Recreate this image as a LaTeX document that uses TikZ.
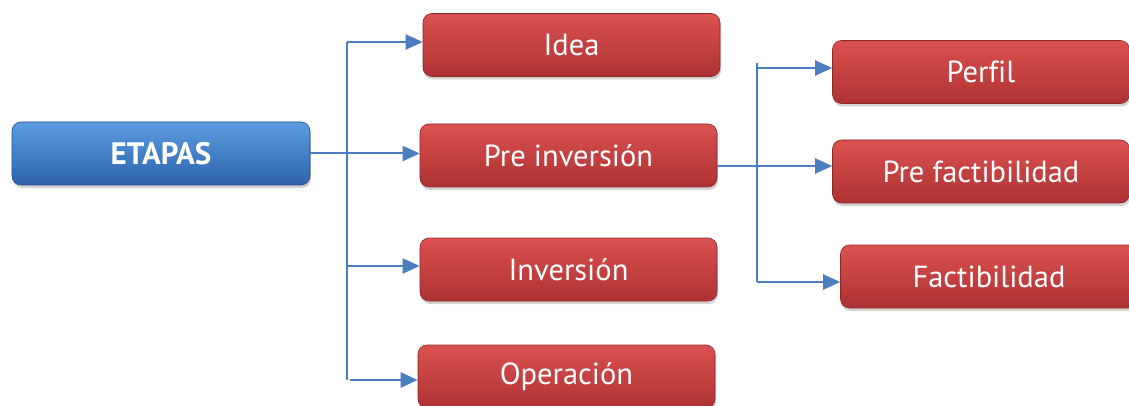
\documentclass[tikz,border=0pt]{standalone}
\usepackage{fontspec}
\setmainfont{PT Sans}[Ligatures=NoCommon]
\usepackage{tikz}
\usetikzlibrary{shapes,arrows.meta,positioning,calc,shadows}
\usepackage{xcolor}
\definecolor{redtop}{HTML}{DA5150}
\definecolor{redbot}{HTML}{AE3232}
\definecolor{bluetop}{HTML}{5C9DE0}
\definecolor{bluebot}{HTML}{2C62AC}
\definecolor{linkblue}{HTML}{4A7EBF}

\begin{document}
\begin{tikzpicture}[x=1pt, y=-1pt,
    stage/.style={rectangle, rounded corners=9pt, minimum width=297pt, minimum height=63pt,
        top color=redtop, bottom color=redbot, draw=redbot!80!black, line width=0.6pt,
        text=white, font=\fontsize{30.5}{36}\selectfont,
        drop shadow={shadow xshift=1pt, shadow yshift=-3pt, opacity=0.35}},
    mainstage/.style={stage, top color=bluetop, bottom color=bluebot, draw=bluebot!80!black,
        font=\fontsize{31}{36}\selectfont\bfseries},
    link/.style={draw=linkblue, line width=2pt},
    arrow/.style={link, -{Triangle[length=17pt, width=15pt]}}]
\clip (0,0) rectangle (1129,406);
% main node
\node[mainstage, minimum width=298pt] (Etapas) at (161,153.5) {ETAPAS};
% stages
\node[stage] (Idea) at (571.5,45) {Idea};
\node[stage] (Preinv) at (568.5,155.5) {Pre inversión};
\node[stage] (Inv) at (568.5,269.5) {Inversión};
\node[stage] (Oper) at (566.5,376.5) {Operación};
% sub stages of pre inversion
\node[stage] (Perfil) at (981,72) {Perfil};
\node[stage] (Prefact) at (981,171.5) {Pre factibilidad};
\node[stage] (Fact) at (989,276.5) {Factibilidad};
% left trunk
\coordinate (LT) at (347,42);
\coordinate (LI) at (347,266);
\coordinate (LB) at (347,380);
\coordinate (LO) at (350,380);
\draw[link] (LT) -- (LB);
\draw[arrow] (LT) -- (LT -| Idea.west);
\draw[arrow] (Etapas.east) -- (Etapas.east -| Preinv.west);
\draw[arrow] (LI) -- (LI -| Inv.west);
\draw[arrow] (LO) -- (LO -| Oper.west);
% right trunk
\coordinate (RT) at (757,63);
\coordinate (RP) at (757,68);
\coordinate (RB) at (757,282);
\coordinate (PO) at ($(Preinv.east)+(0,10.5)$);
\draw[link] (RT) -- (RB);
\draw[arrow] (RP) -- (RP -| Perfil.west);
\draw[arrow] (PO) -- (PO -| Prefact.west);
\draw[arrow] (RB) -- (RB -| Fact.west);
\end{tikzpicture}
\end{document}
